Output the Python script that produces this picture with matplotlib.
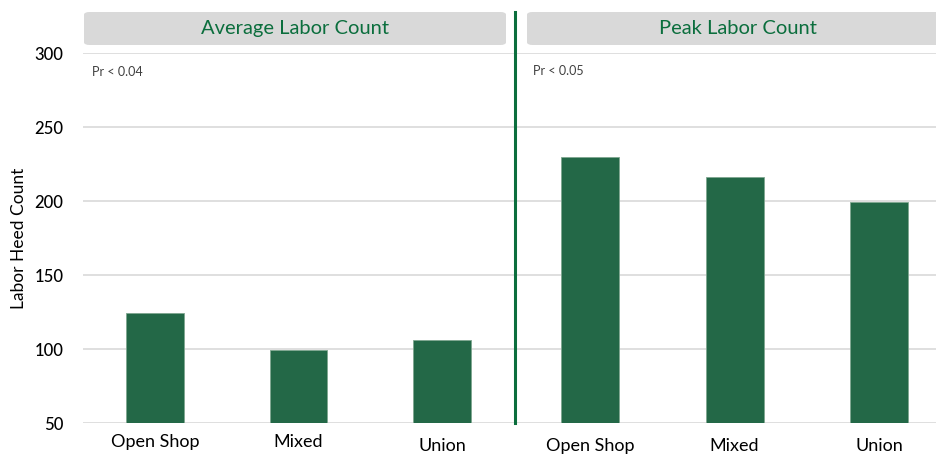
import matplotlib
matplotlib.use("Agg")
import matplotlib.pyplot as plt
from matplotlib.patches import FancyBboxPatch
from matplotlib.lines import Line2D

categories = ["Open Shop", "Mixed", "Union"]
avg_values = [124, 99, 106]
peak_values = [230, 216, 199]
panel_titles = ["Average Labor Count", "Peak Labor Count"]
pr_notes = ["Pr < 0.04", "Pr < 0.05"]
yticks = [50, 100, 150, 200, 250, 300]

W, H = 937, 458
plt.rcParams['font.family'] = ['Lato', 'DejaVu Sans']
fig = plt.figure(figsize=(W / 100, H / 100), dpi=100)

def fx(px):
    return px / W

def fy(py):
    return 1 - py / H

bar_color = "#236847"
title_green = "#0b6e3d"
grid_color = "#d9d9d9"

ax1 = fig.add_axes([fx(83), fy(423), fx(514 - 83), (423 - 53) / H])
ax2 = fig.add_axes([fx(517), fy(423), fx(937 - 517), (423 - 53) / H])

for ax, vals, xlim in [(ax1, avg_values, (-0.5, 2.5)), (ax2, peak_values, (-0.505, 2.4))]:
    x = list(range(len(categories)))
    ax.bar(x, [v - 50 for v in vals], bottom=50, width=0.4, color=bar_color,
           edgecolor="#7fa690", linewidth=0.6, zorder=3)
    ax.set_xlim(*xlim)
    ax.set_ylim(50, 300)
    ax.set_yticks(yticks)
    ax.yaxis.grid(True, color=grid_color, linewidth=1.2, zorder=0)
    ax.set_axisbelow(True)
    for s in ax.spines.values():
        s.set_visible(False)
    ax.set_xticks(x)
    ax.set_xticklabels(categories, fontsize=13, color="#000000")
    ax.tick_params(axis="x", length=0, pad=8)
    ax.tick_params(axis="y", length=0)

ax1.set_yticklabels([str(t) for t in yticks], fontsize=12, fontweight="medium")
ax1.tick_params(axis="y", pad=14)
ax2.set_yticklabels([])
ax2.tick_params(axis="x", pad=11)
ax1.xaxis.get_ticklabels()[2].set_y(-0.01)

fig.text(fx(19), fy(238), "Labor Heed Count", rotation=90, fontsize=12.5,
         ha="center", va="center", color="#000000")

# Header boxes
for (x0, x1), title in zip([(84, 506), (527, 950)], panel_titles):
    box = FancyBboxPatch((fx(x0), fy(45)), fx(x1 - x0), (45 - 12) / H,
                         boxstyle="round,pad=0,rounding_size=0.006",
                         transform=fig.transFigure, facecolor="#d9d9d9",
                         edgecolor="none", clip_on=False)
    fig.patches.append(box)
center_l = (84 + 506) / 2
center_r = (527 + 937 + 120) / 2
fig.text(fx(295), fy(28.5), panel_titles[0], fontsize=14.5, color=title_green,
         ha="center", va="center")
fig.text(fx(738), fy(28.5), panel_titles[1], fontsize=14.5, color=title_green,
         ha="center", va="center")

# Pr notes
fig.text(fx(92), fy(72), pr_notes[0], fontsize=9, color="#404040", ha="left", va="center")
fig.text(fx(533), fy(71), pr_notes[1], fontsize=9, color="#404040", ha="left", va="center")

# Separator line
fig.add_artist(Line2D([fx(515), fx(515)], [fy(12), fy(423)], transform=fig.transFigure,
                      color="#0b6e3d", linewidth=2.2))

fig.savefig("out.png", dpi=100)
